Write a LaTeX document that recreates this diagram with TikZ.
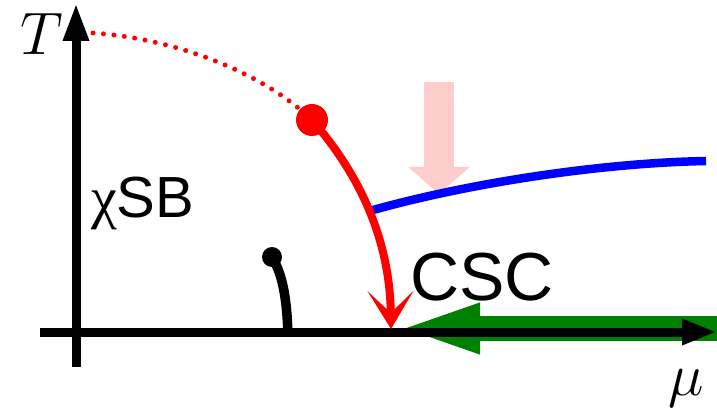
\RequirePackage{fix-cm}
\documentclass[tikz,border=0pt]{standalone}
\usepackage{fontspec}
\newfontfamily\phasefont{Liberation Sans}
\newfontfamily\greekfont{Liberation Serif}
\usetikzlibrary{arrows.meta,positioning}
\definecolor{phasegreen}{RGB}{0,128,0}
\definecolor{arrowpink}{RGB}{255,204,204}

\begin{document}
\begin{tikzpicture}[x=1pt, y=-1pt]
    % Define styles
    \tikzstyle{axis} = [draw, line width=9pt, -{Triangle[length=38pt,width=24pt]}]
    \tikzstyle{phaseline} = [draw, line width=8pt]
    \tikzstyle{phase} = [font=\phasefont\fontsize{58}{66}\selectfont, anchor=base west, inner sep=0pt]
    \tikzstyle{axislabel} = [font=\fontsize{60}{72}\selectfont, anchor=base west, inner sep=0pt]
    \useasboundingbox (0,0) rectangle (717,412);

    % Coordinates
    \coordinate (T_Bottom) at (76,367);
    \coordinate (T_Top) at (76,3);
    \coordinate (Mu_Left) at (40,332);
    \coordinate (Mu_Right) at (717,332);
    \coordinate (Dotted_Start) at (93,33);
    \coordinate (Crit_Point) at (312,120);
    \coordinate (Red_End) at (391,329);
    \coordinate (Blue_Start) at (373,210);
    \coordinate (Blue_End) at (706,161);
    \coordinate (Pink_Top) at (439,82);
    \coordinate (Pink_Tip) at (439,194);
    \coordinate (Green_Start) at (717,328.5);
    \coordinate (Green_Tip) at (395,328.5);
    \coordinate (Black_Bottom) at (288,336);
    \coordinate (Black_Top) at (272,257);

    % Arrows behind the axes
    \draw [arrowpink, line width=30pt, -{Triangle[length=27pt,width=60pt]}] (Pink_Top) -- (Pink_Tip);
    \path [phaseline, blue, line width=8.5pt] (Blue_Start) .. controls (470,183) and (600,163) .. (Blue_End);
    \draw [phasegreen, line width=25pt, -{Triangle[length=85pt,width=44pt]}] (Green_Start) -- (Green_Tip);

    % Axes
    \path [axis] (T_Bottom) -- (T_Top);
    \path [axis, -{Triangle[length=35pt,width=24pt]}] (Mu_Left) -- (Mu_Right);

    % Phase boundaries
    \path [phaseline, line width=9.5pt] (Black_Bottom) .. controls (287,300) and (283,275) .. (Black_Top);
    \fill (Black_Top) circle (10pt);
    \draw [red, line width=5pt, line cap=round, dash pattern=on 0pt off 10.5pt] (Dotted_Start) .. controls (170,38) and (260,70) .. (Crit_Point);
    \path [phaseline, red, -{Stealth[length=38pt,width=46pt,inset=22pt]}] (Crit_Point) .. controls (360,175) and (390,240) .. (Red_End);
    \fill [red] (Crit_Point) circle (16pt);

    % Labels
    \node [axislabel] (T_Label) at (20,55) {$T$};
    \node [axislabel] (Mu_Label) at (668,395) {$\mu$};
    \node [phase] (Chi_SB) at (91,217) {{\greekfont χ}SB};
    \node [phase, font=\phasefont\fontsize{68}{80}\selectfont] (CSC) at (410,300) {CSC};

\end{tikzpicture}
\end{document}
